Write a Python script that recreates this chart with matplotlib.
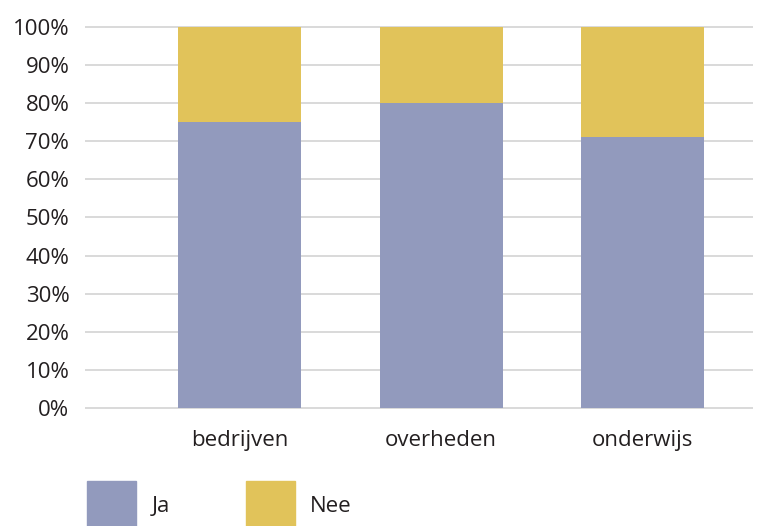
import matplotlib
matplotlib.use("Agg")
import matplotlib.pyplot as plt
from matplotlib.patches import Rectangle
import numpy as np

categories = ["bedrijven", "overheden", "onderwijs"]
ja = [75, 80, 71]
nee = [25, 20, 29]
series_names = ["Ja", "Nee"]
yticks = [0, 10, 20, 30, 40, 50, 60, 70, 80, 90, 100]
ytick_labels = [f"{v}%" for v in yticks]

plt.rcParams['font.family'] = ['Open Sans', 'DejaVu Sans']
c_ja = "#929abd"
c_nee = "#e1c35a"
txt = "#231f20"
fs = 16

fig = plt.figure(figsize=(7.6, 5.26), dpi=100)
ax = fig.add_axes([86/760, 1-408/526, (752-86)/760, (408-27)/526])

x = np.arange(len(categories))
ax.bar(x, ja, width=0.61, color=c_ja, zorder=3, label=series_names[0])
ax.bar(x, nee, bottom=ja, width=0.61, color=c_nee, zorder=3, label=series_names[1])

ax.set_xlim(-0.762, 2.543)
ax.set_ylim(0, 100)
ax.set_yticks(yticks)
ax.set_yticklabels(ytick_labels)
ax.set_xticks(x)
ax.set_xticklabels(categories)
for y in yticks:
    ax.axhline(y, color="#d9d9d9", lw=1.4, zorder=1, clip_on=False)
for s in ax.spines.values():
    s.set_visible(False)
ax.tick_params(axis='both', length=0, labelsize=fs, colors=txt)
ax.tick_params(axis='y', pad=12)
ax.tick_params(axis='x', pad=16)

# legend (manual layout)
W, H = 760, 526
for (px, tx), name, col in zip([(87, 152), (246, 310)], series_names, [c_ja, c_nee]):
    fig.patches.append(Rectangle((px/W, 0), 49/W, 45/H, transform=fig.transFigure,
                                 color=col, figure=fig))
    fig.text(tx/W, 1-507/H, name, fontsize=fs, color=txt, va='center', ha='left')

fig.savefig("out.png", dpi=100)
